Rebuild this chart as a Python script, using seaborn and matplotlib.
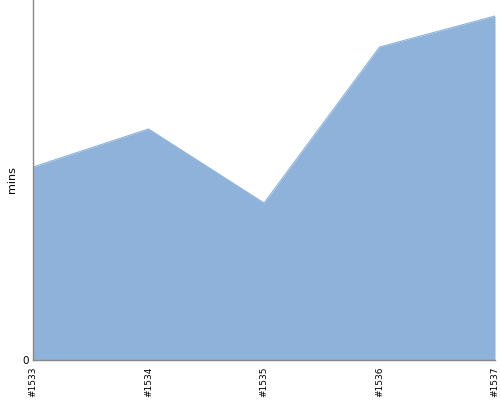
import numpy as np
import pandas as pd
import matplotlib
matplotlib.use("Agg")
import matplotlib.pyplot as plt
import seaborn as sns

# === Data ===
builds = ["#1533", "#1534", "#1535", "#1536", "#1537"]
mins = [19.3, 23.1, 15.7, 31.3, 34.4]
y_max = 36.0

df = pd.DataFrame({"build": builds, "mins": mins})
df["pos"] = np.arange(len(df))

sns.set_style("white")
plt.rcParams["font.family"] = ["DejaVu Sans"]

fill_color = "#8fb2da"

fig = plt.figure(figsize=(5, 4), dpi=100)
ax = fig.add_axes([0.066, 0.1, 0.924, 0.9])

ax.fill_between(df["pos"], 0, df["mins"], color=fill_color, linewidth=0)
sns.lineplot(data=df, x="pos", y="mins", ax=ax, color=fill_color, linewidth=0.8)

ax.set_xlim(0, len(df) - 1)
ax.set_ylim(0, y_max)
ax.set_xticks(df["pos"])
ax.set_xticklabels(df["build"], rotation=90, fontsize=6.5)
ax.set_yticks([0])
ax.set_yticklabels(["0"], fontsize=7.5)
ax.set_xlabel("")
ax.set_ylabel("mins", fontsize=8, labelpad=4, color="black")
ax.tick_params(axis="x", length=0, pad=5, labelcolor="black")
ax.tick_params(axis="y", length=0, pad=3, labelcolor="black")

for side in ["top", "right"]:
    ax.spines[side].set_visible(False)
for side in ["left", "bottom"]:
    ax.spines[side].set_color("#888888")
    ax.spines[side].set_linewidth(1)

fig.savefig("out.png", dpi=100)
